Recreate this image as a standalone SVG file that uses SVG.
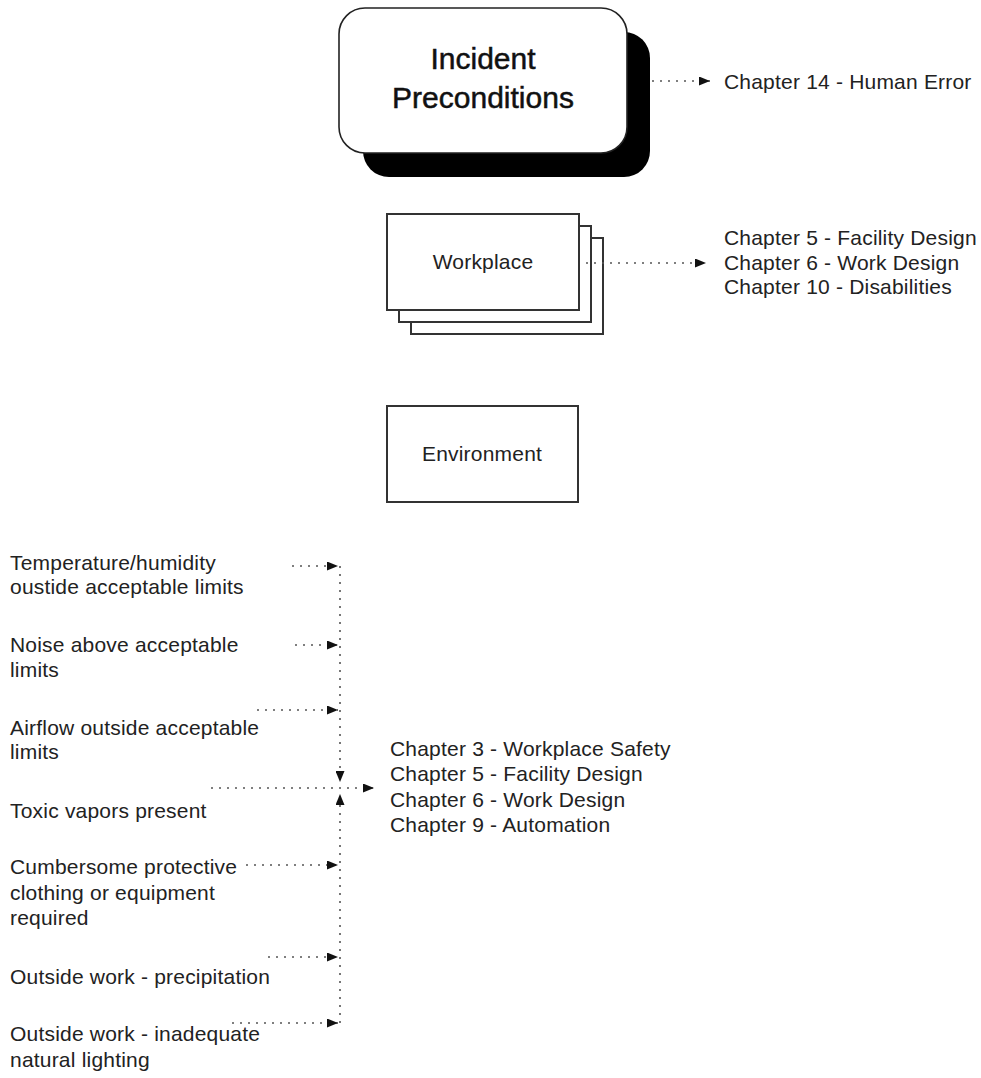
<svg xmlns="http://www.w3.org/2000/svg" width="981" height="1078" viewBox="0 0 981 1078">
  <style>
    text { font-family: "Liberation Sans", Arial, sans-serif; fill: #222; }
    .lbl { font-size: 21px; letter-spacing: 0.2px; }
    .big { font-size: 30px; stroke: #111; stroke-width: 0.5px; fill: #111; }
    .box { fill: #fff; stroke: #333; stroke-width: 2; }
    .dot { fill: none; stroke: #555; stroke-width: 1.6; stroke-dasharray: 2 6; }
  </style>
  <defs>
    <marker id="arrow" viewBox="0 0 11 9" refX="11" refY="4.5" markerWidth="11" markerHeight="9" markerUnits="userSpaceOnUse" orient="auto">
      <path d="M0,0 L11,4.5 L0,9 Z" fill="#111"/>
    </marker>
  </defs>
  <rect width="981" height="1078" fill="#fff"/>

  <!-- Incident Preconditions (rounded box with drop shadow) -->
  <g id="incident">
    <rect x="363" y="32" width="287" height="145" rx="26" fill="#000"/>
    <rect x="339" y="8" width="288" height="145" rx="26" fill="#fff" stroke="#222" stroke-width="1.6"/>
    <text class="big" x="483" y="69" text-anchor="middle">Incident</text>
    <text class="big" x="483" y="108" text-anchor="middle">Preconditions</text>
  </g>

  <!-- Workplace (stacked boxes) -->
  <g id="workplace">
    <rect class="box" x="411" y="238" width="192" height="96"/>
    <rect class="box" x="399" y="226" width="192" height="96"/>
    <rect class="box" x="387" y="214" width="192" height="96"/>
    <text class="lbl" x="483" y="269" text-anchor="middle">Workplace</text>
  </g>

  <!-- Environment -->
  <g id="environment">
    <rect class="box" x="387" y="406" width="191" height="96"/>
    <text class="lbl" x="482" y="461" text-anchor="middle">Environment</text>
  </g>

  <!-- Chapter references -->
  <g id="ref-incident">
    <text class="lbl" x="724" y="89">Chapter 14 - Human Error</text>
  </g>
  <g id="ref-workplace">
    <text class="lbl" x="724" y="245">Chapter 5 - Facility Design</text>
    <text class="lbl" x="724" y="270">Chapter 6 - Work Design</text>
    <text class="lbl" x="724" y="294">Chapter 10 - Disabilities</text>
  </g>
  <g id="ref-environment">
    <text class="lbl" x="390" y="756">Chapter 3 - Workplace Safety</text>
    <text class="lbl" x="390" y="781">Chapter 5 - Facility Design</text>
    <text class="lbl" x="390" y="807">Chapter 6 - Work Design</text>
    <text class="lbl" x="390" y="832">Chapter 9 - Automation</text>
  </g>

  <!-- Environmental factors -->
  <g id="factor-temperature">
    <text class="lbl" x="10" y="570">Temperature/humidity</text>
    <text class="lbl" x="10" y="594">oustide acceptable limits</text>
  </g>
  <g id="factor-noise">
    <text class="lbl" x="10" y="652">Noise above acceptable</text>
    <text class="lbl" x="10" y="677">limits</text>
  </g>
  <g id="factor-airflow">
    <text class="lbl" x="10" y="735">Airflow outside acceptable</text>
    <text class="lbl" x="10" y="759">limits</text>
  </g>
  <g id="factor-toxic">
    <text class="lbl" x="10" y="818">Toxic vapors present</text>
  </g>
  <g id="factor-clothing">
    <text class="lbl" x="10" y="874">Cumbersome protective</text>
    <text class="lbl" x="10" y="900">clothing or equipment</text>
    <text class="lbl" x="10" y="925">required</text>
  </g>
  <g id="factor-precipitation">
    <text class="lbl" x="10" y="984">Outside work - precipitation</text>
  </g>
  <g id="factor-lighting">
    <text class="lbl" x="10" y="1041">Outside work - inadequate</text>
    <text class="lbl" x="10" y="1067">natural lighting</text>
  </g>

  <!-- Connectors -->
  <g id="connectors">
    <line class="dot" x1="652" y1="81" x2="710" y2="81" marker-end="url(#arrow)"/>
    <line class="dot" x1="586" y1="263" x2="706" y2="263" marker-end="url(#arrow)"/>

    <!-- vertical bus -->
    <line class="dot" x1="340" y1="566" x2="340" y2="782" marker-end="url(#arrow)"/>
    <line class="dot" x1="340" y1="1023" x2="340" y2="794" marker-end="url(#arrow)"/>

    <!-- factor feeds -->
    <line class="dot" x1="292" y1="566" x2="338" y2="566" marker-end="url(#arrow)"/>
    <line class="dot" x1="295" y1="645" x2="338" y2="645" marker-end="url(#arrow)"/>
    <line class="dot" x1="257" y1="710" x2="338" y2="710" marker-end="url(#arrow)"/>
    <line class="dot" x1="246" y1="865" x2="338" y2="865" marker-end="url(#arrow)"/>
    <line class="dot" x1="268" y1="957" x2="338" y2="957" marker-end="url(#arrow)"/>
    <line class="dot" x1="232" y1="1023" x2="338" y2="1023" marker-end="url(#arrow)"/>

    <!-- junction to chapters -->
    <line class="dot" x1="211" y1="788" x2="374" y2="788" marker-end="url(#arrow)"/>
  </g>
</svg>
